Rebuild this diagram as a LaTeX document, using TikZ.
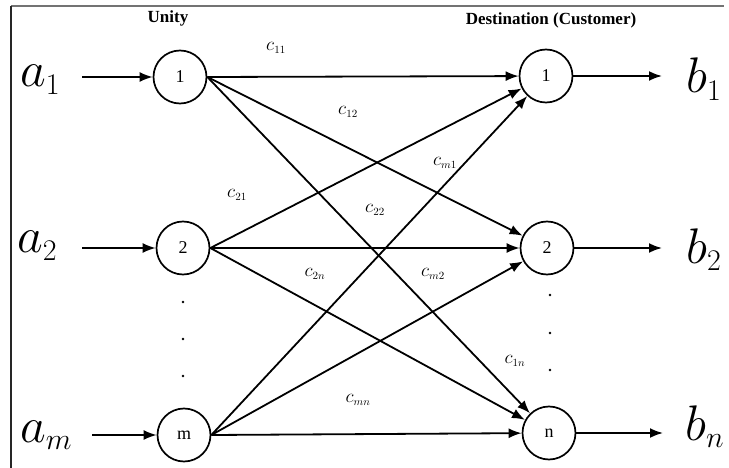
\RequirePackage{fix-cm}
\documentclass[tikz,border=0pt]{standalone}
\usepackage{fontspec}
\setmainfont{Liberation Serif}
\usetikzlibrary{arrows.meta}
\DeclareMathSizes{50}{50}{30}{22}
\DeclareMathSizes{19}{19}{11}{8}
\tikzset{
  net node/.style={circle,draw=black,line width=1.7pt,minimum size=53pt,inner sep=0pt,font=\fontsize{18}{18}\selectfont},
  net flow/.style={-{Latex[length=13pt,width=10pt]},line width=1.8pt,draw=black},
  net cost/.style={font=\fontsize{19}{19}\selectfont,inner sep=0pt},
  net amount/.style={font=\fontsize{50}{50}\selectfont,inner sep=0pt,anchor=base west},
  net title/.style={font=\fontsize{17}{17}\selectfont\bfseries,inner sep=0pt},
  net frame/.style={line width=1.4pt}
}

\begin{document}
\begin{tikzpicture}[x=1pt,y=-1pt]
  \useasboundingbox (0,0) rectangle (729,468);
  \draw[net frame,draw=black!55] (11,6) -- (724,6);
  \draw[net frame,draw=black!85] (11,6) -- (11,468);

  \node[net title] (unity) at (168,18) {Unity};
  \node[net title] (dest) at (551,20) {Destination (Customer)};

  % sources
  \node[net node] (src1) at (180,77) {1};
  \node[net node] (src2) at (183,248) {2};
  \node[net node] (srcm) at (184,435) {m};
  % destinations
  \node[net node] (dst1) at (546,76) {1};
  \node[net node] (dst2) at (547,248) {2};
  \node[net node] (dstn) at (549,433) {n};

  \node[net amount] (a1) at (20,87) {$a_1$};
  \node[net amount] (a2) at (17,253) {$a_2$};
  \node[net amount] (am) at (20,442) {$a_m$};
  \node[net amount] (b1) at (686,93) {$b_1$};
  \node[net amount] (b2) at (686,263) {$b_2$};
  \node[net amount] (bn) at (685,440) {$b_n$};

  \coordinate (in1) at (82,77);
  \coordinate (in2) at (82,248);
  \coordinate (inm) at (92,435);
  \coordinate (out1) at (662,76);
  \coordinate (out2) at (662,248);
  \coordinate (outn) at (663,433);

  \draw[net flow] (in1) -- (src1);
  \draw[net flow] (in2) -- (src2);
  \draw[net flow] (inm) -- (srcm);
  \draw[net flow] (dst1) -- (out1);
  \draw[net flow] (dst2) -- (out2);
  \draw[net flow] (dstn) -- (outn);

  \draw[net flow] (src1.east) -- (dst1);
  \draw[net flow] (src1.east) -- (dst2);
  \draw[net flow] (src1.east) -- (dstn);
  \draw[net flow] (src2.east) -- (dst1);
  \draw[net flow] (src2.east) -- (dst2);
  \draw[net flow] (src2.east) -- (dstn);
  \draw[net flow] (srcm.east) -- (dst1);
  \draw[net flow] (srcm.east) -- (dst2);
  \draw[net flow] (srcm.east) -- (dstn);

  % costs
  \node[net cost] (c11) at (276,48) {$c_{11}$};
  \node[net cost] (c12) at (348,112) {$c_{12}$};
  \node[net cost] (c21) at (237,195) {$c_{21}$};
  \node[net cost] (cm1) at (445,163) {$c_{m1}$};
  \node[net cost] (c22) at (375,210) {$c_{22}$};
  \node[net cost] (c2n) at (315,274) {$c_{2n}$};
  \node[net cost] (cm2) at (433,274) {$c_{m2}$};
  \node[net cost] (c1n) at (515,361) {$c_{1n}$};
  \node[net cost] (cmn) at (358,400) {$c_{mn}$};

  % dots
  \fill (183,302) circle (1.4) (183,339) circle (1.4) (183,376) circle (1.4);
  \fill (550,295) circle (1.4) (550,333) circle (1.4) (550,370) circle (1.4);
\end{tikzpicture}
\end{document}
